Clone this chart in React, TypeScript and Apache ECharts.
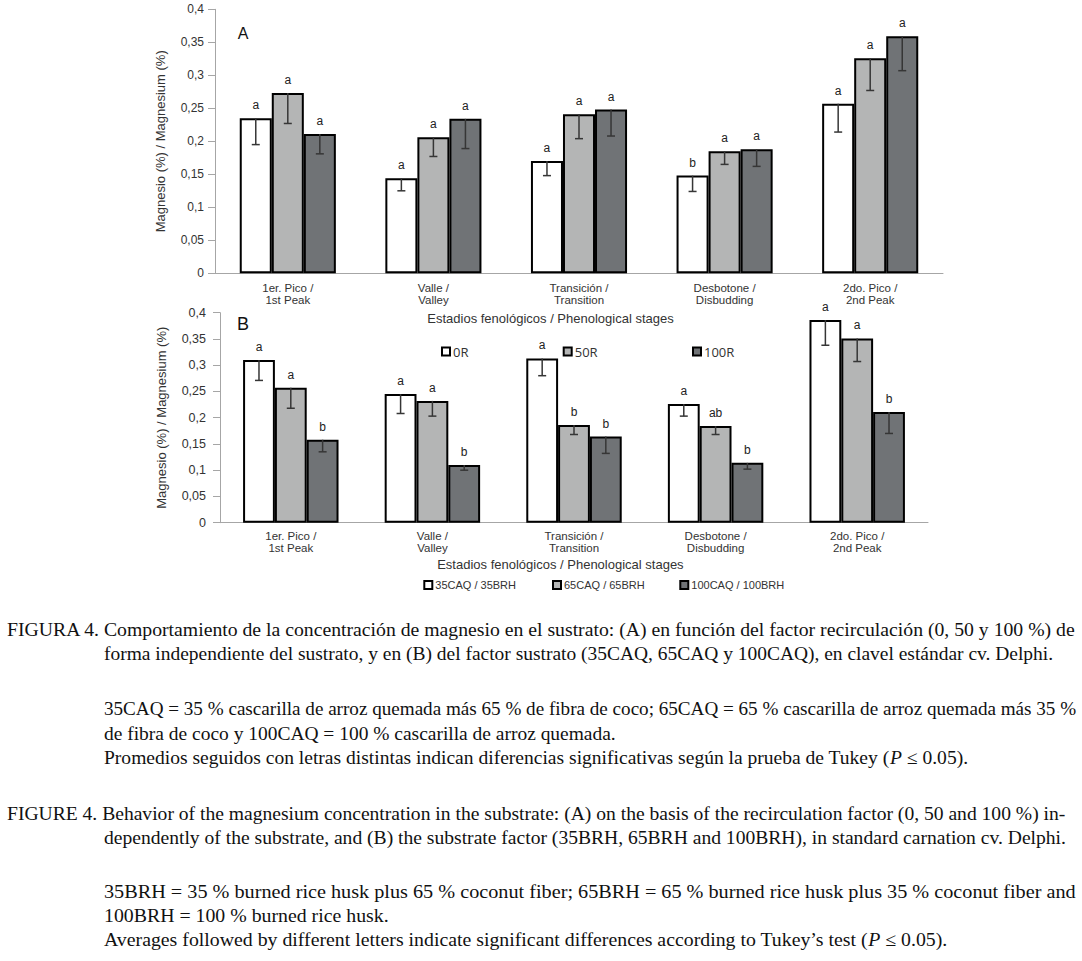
import React, { useEffect, useRef } from 'react';
import * as echarts from 'echarts';

// ---------- data ----------
const stages = [
  '1er. Pico /\n1st Peak',
  'Valle /\nValley',
  'Transición /\nTransition',
  'Desbotone /\nDisbudding',
  '2do. Pico /\n2nd Peak',
];
const yMin = 0;
const yMax = 0.4;
const yStep = 0.05;

// Panel A: recirculation factor
const recircNames = ['0R', '50R', '100R'];
const magA_0R = [0.235, 0.144, 0.17, 0.148, 0.257];
const magA_50R = [0.273, 0.206, 0.241, 0.185, 0.326];
const magA_100R = [0.211, 0.234, 0.248, 0.188, 0.359];
const errA_0R = [0.04, 0.019, 0.022, 0.024, 0.043];
const errA_50R = [0.046, 0.029, 0.037, 0.02, 0.049];
const errA_100R = [0.03, 0.045, 0.04, 0.026, 0.052];
const letA_0R = ['a', 'a', 'a', 'b', 'a'];
const letA_50R = ['a', 'a', 'a', 'a', 'a'];
const letA_100R = ['a', 'a', 'a', 'a', 'a'];

// Panel B: substrate factor
const substrateNames = ['35CAQ / 35BRH', '65CAQ / 65BRH', '100CAQ / 100BRH'];
const magB_35 = [0.31, 0.245, 0.313, 0.226, 0.386];
const magB_65 = [0.257, 0.232, 0.186, 0.184, 0.351];
const magB_100 = [0.158, 0.11, 0.164, 0.114, 0.211];
const errB_35 = [0.039, 0.037, 0.033, 0.023, 0.048];
const errB_65 = [0.039, 0.029, 0.018, 0.016, 0.044];
const errB_100 = [0.023, 0.01, 0.032, 0.012, 0.041];
const letB_35 = ['a', 'a', 'a', 'a', 'a'];
const letB_65 = ['a', 'a', 'b', 'ab', 'a'];
const letB_100 = ['b', 'b', 'b', 'b', 'b'];

const yTitle = 'Magnesio (%) / Magnesium (%)';
const xTitle = 'Estadios fenológicos / Phenological stages';

const captionES = [
  'FIGURA 4. Comportamiento de la concentración de magnesio en el sustrato: (A) en función del factor recirculación (0, 50 y 100 %) de',
  'forma independiente del sustrato, y en (B) del factor sustrato (35CAQ, 65CAQ y 100CAQ), en clavel estándar cv. Delphi.',
  '35CAQ = 35 % cascarilla de arroz quemada más 65 % de fibra de coco; 65CAQ = 65 % cascarilla de arroz quemada más 35 %',
  'de fibra de coco y 100CAQ = 100 % cascarilla de arroz quemada.',
  'Promedios seguidos con letras distintas indican diferencias significativas según la prueba de Tukey (P ≤ 0.05).',
];
const captionEN = [
  'FIGURE 4. Behavior of the magnesium concentration in the substrate: (A) on the basis of the recirculation factor (0, 50 and 100 %) in-',
  'dependently of the substrate, and (B) the substrate factor (35BRH, 65BRH and 100BRH), in standard carnation cv. Delphi.',
  '35BRH = 35 % burned rice husk plus 65 % coconut fiber; 65BRH = 65 % burned rice husk plus 35 % coconut fiber and',
  '100BRH = 100 % burned rice husk.',
  'Averages followed by different letters indicate significant differences according to Tukey’s test (P ≤ 0.05).',
];

// ---------- styles ----------
const fills = ['#ffffff', '#b4b5b5', '#707376'];
const sans = '"Liberation Sans", Arial, sans-serif';
const serif = '"Liberation Serif", "Times New Roman", serif';
const axisGray = '#a6a6a6';
const capFont = 19;
const capColor = '#111111';

const fmtY = (v: number) => String(Number(v.toFixed(2))).replace('.', ',');

function errorRenderer(barFrac: number) {
  return (params: any, api: any) => {
    const cat = api.value(0);
    const v = api.value(1);
    const e = api.value(2);
    const k = api.value(3);
    const top = api.coord([cat, v]);
    const bot = api.coord([cat, v - e]);
    const cw = api.size([1, 0])[0];
    const x = top[0] + (k - 1) * cw * barFrac;
    const style = { stroke: '#363636', lineWidth: 1.5 };
    return {
      type: 'group',
      children: [
        { type: 'line', shape: { x1: x, y1: top[1], x2: x, y2: bot[1] }, style },
        { type: 'line', shape: { x1: x - 4, y1: bot[1], x2: x + 4, y2: bot[1] }, style },
      ],
    };
  };
}

function measure(text: string, font: string) {
  const c = document.createElement('canvas').getContext('2d');
  if (!c) return text.length * 8;
  c.font = font;
  return c.measureText(text).width;
}

function captionGraphics(lines: string[], ys: number[], xs: number[], ends: (number | null)[]) {
  const font = `${capFont}px ${serif}`;
  const scales = lines.map((t, i) => {
    const e = ends[i];
    if (e == null) return null;
    return (e - xs[i]) / measure(t, font);
  });
  const known = scales.filter((s) => s != null) as number[];
  const avg = known.reduce((a, b) => a + b, 0) / known.length;
  return lines.map((t, i) => {
    const hasP = t.includes('(P ≤');
    const txt = hasP ? t.replace('(P ≤', '({i|P} ≤') : t;
    return {
      type: 'text',
      x: xs[i],
      y: ys[i],
      scaleX: scales[i] ?? avg,
      style: {
        text: txt,
        fontFamily: serif,
        fontSize: capFont,
        fill: capColor,
        align: 'left',
        verticalAlign: 'middle',
        rich: {
          i: { fontFamily: serif, fontSize: capFont, fontStyle: 'italic', fill: capColor },
        },
      },
    };
  });
}

function barSeries(name: string, values: number[], letters: string[], idx: number, gridIdx: number, gap: string) {
  return {
    name,
    type: 'bar',
    xAxisIndex: gridIdx,
    yAxisIndex: gridIdx,
    data: values,
    barGap: '0%',
    barCategoryGap: gap,
    itemStyle: { color: fills[idx], borderColor: '#000', borderWidth: 2 },
    label: {
      show: true,
      position: 'top',
      distance: 7,
      fontFamily: sans,
      fontSize: 12,
      color: '#222',
      formatter: (p: any) => letters[p.dataIndex],
    },
    z: 2,
  };
}

function errSeries(values: number[], errs: number[], idx: number, gridIdx: number, barFrac: number) {
  return {
    type: 'custom',
    xAxisIndex: gridIdx,
    yAxisIndex: gridIdx,
    renderItem: errorRenderer(barFrac),
    encode: { x: 0, y: 1 },
    data: values.map((v, i) => [i, v, errs[i], idx]),
    z: 5,
    silent: true,
  };
}

function legendItem(name: string, left: number, top: number, fontSize: number, fontFamily: string) {
  return {
    data: [name],
    left,
    top,
    padding: 0,
    itemWidth: 8,
    itemHeight: 8,
    icon: 'rect',
    selectedMode: false,
    textStyle: { fontSize, fontFamily, color: '#333', padding: [0, 0, 0, -2] },
  };
}

export default function App() {
  const ref = useRef<HTMLDivElement>(null);

  useEffect(() => {
    if (!ref.current) return;
    const chart = echarts.init(ref.current, null, { renderer: 'svg' });

    const xAxisCommon = (margin: number) => ({
      type: 'category',
      data: stages,
      axisLine: { lineStyle: { color: axisGray, width: 1 } },
      axisTick: { show: false },
      axisLabel: { interval: 0, margin, fontFamily: sans, fontSize: 11.5, lineHeight: 12.5, color: '#333' },
    });
    const yAxisCommon = (nameGap: number, margin: number, fontSize: number) => ({
      type: 'value',
      min: yMin,
      max: yMax,
      interval: yStep,
      name: yTitle,
      nameLocation: 'middle',
      nameGap,
      nameTextStyle: { fontFamily: sans, fontSize: 13, color: '#333' },
      axisLine: { show: true, lineStyle: { color: axisGray, width: 1 } },
      axisTick: { show: true, length: 7, lineStyle: { color: axisGray } },
      splitLine: { show: false },
      axisLabel: { margin, fontFamily: sans, fontSize, color: '#333', formatter: fmtY },
    });

    const capX = [7, 104, 104, 104, 104];
    const option: any = {
      animation: false,
      backgroundColor: '#ffffff',
      textStyle: { fontFamily: sans },
      grid: [
        { left: 215, top: 9.3, width: 728, height: 264 },
        { left: 220, top: 312.7, width: 708, height: 210 },
      ],
      xAxis: [
        { gridIndex: 0, ...xAxisCommon(8) },
        { gridIndex: 1, ...xAxisCommon(7) },
      ],
      yAxis: [
        { gridIndex: 0, ...yAxisCommon(48, 11, 12) },
        { gridIndex: 1, ...yAxisCommon(52, 14, 12.5) },
      ],
      legend: [
        legendItem(recircNames[0], 441, 345, 13, '"Open Sans", sans-serif'),
        legendItem(recircNames[1], 562.7, 345, 13, '"Open Sans", sans-serif'),
        legendItem(recircNames[2], 692, 345, 13, '"Open Sans", sans-serif'),
        legendItem(substrateNames[0], 423.3, 579.5, 11, sans),
        legendItem(substrateNames[1], 552, 579.5, 11, sans),
        legendItem(substrateNames[2], 679.3, 579.5, 11, sans),
      ],
      series: [
        barSeries(recircNames[0], magA_0R, letA_0R, 0, 0, '34%'),
        barSeries(recircNames[1], magA_50R, letA_50R, 1, 0, '34%'),
        barSeries(recircNames[2], magA_100R, letA_100R, 2, 0, '34%'),
        errSeries(magA_0R, errA_0R, 0, 0, 0.22),
        errSeries(magA_50R, errA_50R, 1, 0, 0.22),
        errSeries(magA_100R, errA_100R, 2, 0, 0.22),
        barSeries(substrateNames[0], magB_35, letB_35, 0, 1, '32.6%'),
        barSeries(substrateNames[1], magB_65, letB_65, 1, 1, '32.6%'),
        barSeries(substrateNames[2], magB_100, letB_100, 2, 1, '32.6%'),
        errSeries(magB_35, errB_35, 0, 1, 0.2247),
        errSeries(magB_65, errB_65, 1, 1, 0.2247),
        errSeries(magB_100, errB_100, 2, 1, 0.2247),
      ],
      graphic: [
        {
          type: 'text', x: 243, y: 33.5,
          style: { text: 'A', fontFamily: sans, fontSize: 16, fill: '#111', align: 'center', verticalAlign: 'middle' },
        },
        {
          type: 'text', x: 243, y: 324,
          style: { text: 'B', fontFamily: sans, fontSize: 18, fill: '#111', align: 'center', verticalAlign: 'middle' },
        },
        {
          type: 'text', x: 550.5, y: 318.3,
          style: { text: xTitle, fontFamily: sans, fontSize: 13, fill: '#333', align: 'center', verticalAlign: 'middle' },
        },
        {
          type: 'text', x: 560.4, y: 564.3,
          style: { text: xTitle, fontFamily: sans, fontSize: 13, fill: '#333', align: 'center', verticalAlign: 'middle' },
        },
        ...captionGraphics(captionES, [630, 654, 709, 734, 758], capX, [1076, 1054, 1077, null, 967]),
        ...captionGraphics(captionEN, [814, 838, 892, 916, 940], capX, [1066, 1067, 1077, null, null]),
      ],
    };

    chart.setOption(option);
    return () => chart.dispose();
  }, []);

  return (
    <div
      ref={ref}
      style={{ position: 'absolute', left: 0, top: 0, width: 1082, height: 961, background: '#fff' }}
    />
  );
}
